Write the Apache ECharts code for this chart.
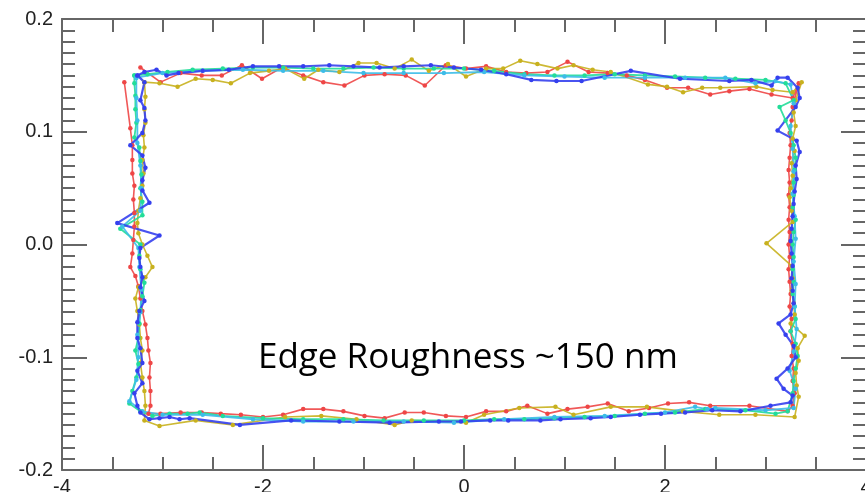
<!DOCTYPE html>
<html>
<head>
<meta charset="utf-8">
<title>Edge Roughness</title>
<script src="https://cdn.jsdelivr.net/npm/echarts@6/dist/echarts.min.js"></script>
<style>
  html, body { margin: 0; padding: 0; background: #ffffff; }
  #chart { width: 865px; height: 492px; }
</style>
</head>
<body>
<div id="chart"></div>
<script>
// Traced outline of a rectangular feature, several passes (x, y in same units as axes)
const redPath = [
  [-3.22,0.157],[-3.02,0.144],[-2.82,0.152],[-2.61,0.150],[-2.41,0.150],[-2.21,0.159],[-2.01,0.147],[-1.81,0.157],
  [-1.60,0.150],[-1.40,0.144],[-1.19,0.141],[-0.99,0.150],[-0.79,0.151],[-0.58,0.150],[-0.39,0.141],[-0.18,0.159],
  [0.02,0.156],[0.22,0.158],[0.42,0.153],[0.62,0.152],[0.83,0.153],[1.03,0.162],[1.24,0.153],[1.43,0.152],
  [1.62,0.150],[1.80,0.146],[2.02,0.139],[2.23,0.139],[2.45,0.133],[2.64,0.136],[2.84,0.138],[3.06,0.133],
  [3.27,0.130],[3.33,0.143],
  [3.27,0.122],[3.26,0.110],[3.24,0.099],[3.25,0.088],[3.24,0.077],[3.23,0.066],[3.24,0.055],[3.23,0.044],
  [3.24,0.033],[3.23,0.022],[3.24,0.011],[3.23,0.000],[3.24,-0.011],[3.23,-0.022],[3.24,-0.033],[3.25,-0.044],
  [3.24,-0.055],[3.26,-0.066],[3.25,-0.077],[3.27,-0.088],[3.26,-0.099],[3.28,-0.110],[3.27,-0.121],[3.29,-0.132],
  [3.27,-0.143],[3.22,-0.148],
  [2.84,-0.143],[2.45,-0.143],[2.24,-0.140],[2.03,-0.141],[1.84,-0.145],[1.64,-0.148],[1.43,-0.141],[1.23,-0.144],
  [1.03,-0.146],[0.83,-0.150],[0.63,-0.143],[0.42,-0.148],[0.22,-0.148],[0.02,-0.153],[-0.18,-0.152],[-0.40,-0.149],
  [-0.59,-0.149],[-0.79,-0.154],[-0.99,-0.152],[-1.20,-0.148],[-1.40,-0.146],[-1.60,-0.146],[-1.80,-0.151],[-2.00,-0.153],
  [-2.22,-0.151],[-2.42,-0.150],[-2.61,-0.149],[-2.82,-0.149],[-3.02,-0.150],[-3.14,-0.150],
  [-3.12,-0.143],[-3.12,-0.130],[-3.13,-0.118],[-3.12,-0.105],[-3.14,-0.094],[-3.15,-0.083],[-3.17,-0.071],[-3.20,-0.059],
  [-3.22,-0.048],[-3.24,-0.037],[-3.27,-0.028],[-3.32,-0.020],[-3.30,-0.008],[-3.29,0.004],[-3.28,0.016],[-3.28,0.028],
  [-3.29,0.040],[-3.28,0.052],[-3.30,0.063],[-3.30,0.075],[-3.30,0.088],[-3.32,0.103],[-3.38,0.144]
];

const yellowPath = [
  [-3.18,0.144],[-3.03,0.143],[-2.85,0.140],[-2.67,0.147],[-2.50,0.146],[-2.32,0.143],[-2.13,0.152],[-1.94,0.154],
  [-1.78,0.156],[-1.59,0.147],[-1.45,0.155],[-1.24,0.153],[-1.05,0.161],[-0.87,0.161],[-0.69,0.156],[-0.52,0.164],
  [-0.35,0.154],[-0.16,0.160],[0.02,0.149],[0.22,0.156],[0.39,0.156],[0.56,0.163],[0.73,0.160],[0.93,0.156],
  [1.09,0.159],[1.28,0.155],[1.46,0.153],[1.83,0.142],[2.02,0.140],[2.18,0.135],[2.37,0.139],[2.55,0.139],
  [2.91,0.140],[3.07,0.137],[3.27,0.135],[3.36,0.144],
  [3.30,0.128],[3.28,0.117],[3.30,0.105],[3.27,0.094],[3.29,0.083],[3.26,0.072],[3.27,0.061],[3.25,0.050],
  [3.24,0.042],[3.26,0.030],[3.27,0.020],[3.01,0.001],[3.26,-0.019],[3.27,-0.030],[3.26,-0.041],[3.28,-0.052],
  [3.29,-0.062],[3.25,-0.070],[3.39,-0.081],[3.32,-0.092],[3.33,-0.103],[3.30,-0.114],[3.31,-0.125],[3.33,-0.135],
  [3.29,-0.153],
  [2.90,-0.151],[2.54,-0.151],[2.18,-0.148],[1.82,-0.144],[1.46,-0.144],[1.09,-0.151],[0.91,-0.144],[0.55,-0.145],
  [0.20,-0.151],[0.02,-0.158],[-0.52,-0.156],[-0.69,-0.160],[-1.07,-0.155],[-1.42,-0.152],[-1.78,-0.153],[-2.30,-0.160],
  [-2.67,-0.156],[-3.03,-0.161],[-3.18,-0.156],
  [-3.17,-0.143],[-3.18,-0.130],[-3.20,-0.118],[-3.22,-0.105],[-3.20,-0.094],[-3.22,-0.083],[-3.23,-0.071],[-3.25,-0.059],
  [-3.27,-0.048],[-3.24,-0.038],[-3.17,-0.029],[-3.10,-0.020],[-3.15,-0.010],[-3.20,0.000],[-3.24,0.010],[-3.25,0.019],
  [-3.24,0.030],[-3.22,0.041],[-3.20,0.052],[-3.19,0.063],[-3.20,0.075],[-3.18,0.086],[-3.19,0.097],[-3.17,0.108],
  [-3.18,0.120],[-3.17,0.131],[-3.18,0.144]
];

const greenPath = [
  [-3.28,0.150],[-3.15,0.151],[-2.95,0.153],[-2.70,0.155],[-2.40,0.156],[-2.10,0.157],[-1.80,0.157],[-1.50,0.156],
  [-1.20,0.156],[-0.90,0.157],[-0.60,0.156],[-0.30,0.156],[0.00,0.156],[0.30,0.154],[0.60,0.151],[0.90,0.150],
  [1.20,0.150],[1.50,0.151],[1.80,0.150],[2.10,0.149],[2.40,0.148],[2.70,0.147],[3.00,0.146],[3.20,0.143],
  [3.28,0.128],
  [3.14,0.122],[3.20,0.110],[3.25,0.099],[3.28,0.088],[3.30,0.077],[3.29,0.066],[3.28,0.055],[3.28,0.044],
  [3.27,0.033],[3.30,0.022],[3.28,0.011],[3.27,0.000],[3.28,-0.011],[3.27,-0.022],[3.28,-0.033],[3.27,-0.044],
  [3.29,-0.055],[3.30,-0.066],[3.25,-0.077],[3.30,-0.088],[3.32,-0.099],[3.30,-0.110],[3.28,-0.121],[3.27,-0.132],
  [3.22,-0.148],
  [3.10,-0.150],[2.80,-0.147],[2.40,-0.146],[2.10,-0.149],[1.80,-0.150],[1.50,-0.152],[1.20,-0.153],[0.90,-0.154],
  [0.60,-0.155],[0.30,-0.155],[0.00,-0.156],[-0.40,-0.156],[-0.80,-0.156],[-1.20,-0.155],[-1.60,-0.155],[-2.00,-0.154],
  [-2.40,-0.152],[-2.63,-0.149],[-2.75,-0.150],[-2.93,-0.150],[-3.10,-0.152],[-3.22,-0.148],
  [-3.33,-0.141],[-3.30,-0.130],[-3.26,-0.118],[-3.24,-0.106],[-3.27,-0.094],[-3.24,-0.083],[-3.23,-0.070],[-3.22,-0.058],
  [-3.20,-0.046],[-3.18,-0.034],[-3.22,-0.022],[-3.23,-0.010],[-3.22,0.000],[-3.42,0.014],[-3.20,0.026],[-3.20,0.038],
  [-3.22,0.050],[-3.21,0.062],[-3.22,0.074],[-3.23,0.086],[-3.28,0.095],[-3.26,0.108],[-3.27,0.120],[-3.27,0.132],
  [-3.28,0.143],[-3.28,0.150]
];

const cyanPath = [
  [-3.26,0.148],[-3.00,0.152],[-2.60,0.154],[-2.20,0.155],[-1.80,0.154],[-1.40,0.154],[-1.00,0.152],[-0.60,0.152],
  [-0.20,0.152],[0.20,0.153],[0.60,0.150],[1.00,0.149],[1.40,0.148],[1.80,0.148],[2.20,0.148],[2.60,0.148],
  [2.90,0.143],[3.10,0.145],[3.25,0.142],
  [3.28,0.125],[3.25,0.105],[3.27,0.085],[3.28,0.065],[3.27,0.045],[3.29,0.025],[3.30,0.005],[3.28,-0.015],
  [3.30,-0.035],[3.29,-0.055],[3.31,-0.075],[3.28,-0.095],[3.24,-0.112],[3.30,-0.128],[3.28,-0.145],
  [3.00,-0.147],[2.50,-0.145],[2.42,-0.146],[2.30,-0.144],[2.00,-0.149],[1.40,-0.152],[0.90,-0.153],[0.40,-0.155],
  [-0.10,-0.158],[-0.60,-0.157],[-1.10,-0.157],[-1.60,-0.157],[-2.10,-0.155],[-2.60,-0.151],[-3.00,-0.151],[-3.20,-0.148],
  [-3.33,-0.139],[-3.26,-0.120],[-3.24,-0.100],[-3.25,-0.080],[-3.22,-0.060],[-3.21,-0.040],[-3.23,-0.020],[-3.24,-0.003],
  [-3.40,0.016],[-3.22,0.030],[-3.21,0.050],[-3.22,0.070],[-3.25,0.090],[-3.25,0.110],[-3.26,0.130],[-3.26,0.148]
];

const bluePath = [
  [-3.25,0.150],[-3.18,0.153],[-3.06,0.155],[-2.96,0.150],[-2.84,0.152],[-2.60,0.154],[-2.34,0.155],[-2.10,0.158],
  [-1.84,0.158],[-1.60,0.158],[-1.34,0.159],[-1.10,0.158],[-0.84,0.157],[-0.60,0.158],[-0.33,0.159],[-0.10,0.157],
  [0.17,0.155],[0.42,0.151],[0.67,0.146],[0.92,0.145],[1.17,0.145],[1.66,0.154],[2.15,0.147],[2.64,0.145],
  [2.86,0.146],[3.06,0.141],[3.12,0.148],[3.22,0.148],[3.32,0.139],[3.34,0.130],
  [3.30,0.122],[3.12,0.101],[3.31,0.092],[3.34,0.082],[3.30,0.070],[3.31,0.058],[3.29,0.047],[3.28,0.036],
  [3.27,0.025],[3.26,0.014],[3.25,0.003],[3.26,-0.008],[3.27,-0.019],[3.26,-0.030],[3.27,-0.041],[3.28,-0.052],
  [3.25,-0.062],[3.13,-0.070],[3.20,-0.080],[3.28,-0.090],[3.30,-0.100],[3.22,-0.110],[3.11,-0.119],[3.18,-0.128],
  [3.27,-0.134],[3.25,-0.140],
  [3.05,-0.143],[2.75,-0.148],[2.47,-0.147],[2.20,-0.149],[1.96,-0.150],[1.75,-0.151],[1.46,-0.153],[1.26,-0.154],
  [0.96,-0.155],[0.76,-0.156],[0.44,-0.156],[0.26,-0.156],[-0.03,-0.157],[-0.25,-0.157],[-0.74,-0.158],[-1.24,-0.157],
  [-1.72,-0.156],[-2.23,-0.160],[-2.73,-0.154],[-2.83,-0.155],[-2.93,-0.153],[-3.03,-0.154],[-3.13,-0.155],[-3.22,-0.149],
  [-3.25,-0.143],
  [-3.28,-0.132],[-3.20,-0.123],[-3.25,-0.112],[-3.20,-0.105],[-3.22,-0.092],[-3.25,-0.083],[-3.25,-0.069],[-3.23,-0.059],
  [-3.18,-0.050],[-3.22,-0.038],[-3.20,-0.029],[-3.22,-0.020],[-3.23,-0.012],[-3.22,-0.003],[-3.03,0.008],[-3.45,0.019],
  [-3.13,0.037],[-3.20,0.048],[-3.20,0.057],[-3.17,0.068],[-3.20,0.079],[-3.32,0.088],[-3.20,0.099],[-3.17,0.110],
  [-3.18,0.121],[-3.22,0.128],[-3.18,0.144],[-3.25,0.150]
];

// Axis ranges and tick steps
const xRange = [-4, 4];
const xStep = 2;
const yRange = [-0.2, 0.2];
const yStep = 0.1;
const annotation = 'Edge Roughness ~150 nm';

const traces = [
  { name: 'pass 1', data: redPath,    color: '#ee4646', width: 1.6 },
  { name: 'pass 2', data: yellowPath, color: '#c8b11e', width: 1.6 },
  { name: 'pass 3', data: greenPath,  color: '#22dd99', width: 1.8 },
  { name: 'pass 4', data: cyanPath,   color: '#3cbce8', width: 1.8 },
  { name: 'pass 5', data: bluePath,   color: '#3540ee', width: 2.2 }
];

const frameColor = '#666666';
const labelFont = { color: '#222222', fontSize: 20, fontFamily: 'Liberation Sans, Arial, sans-serif' };

function xAxisDef(pos, showLabels) {
  return {
    type: 'value', position: pos, min: xRange[0], max: xRange[1], interval: xStep,
    axisLine: { show: true, onZero: false, lineStyle: { color: frameColor, width: 2 } },
    axisTick: { show: true, inside: true, length: 25, lineStyle: { color: frameColor, width: 2 } },
    minorTick: { show: true, splitNumber: 4, length: 13, lineStyle: { color: frameColor, width: 2 } },
    splitLine: { show: false },
    axisLabel: Object.assign({ show: showLabels, margin: 7, formatter: v => String(Math.round(v)) }, labelFont)
  };
}

function yAxisDef(pos, showLabels) {
  return {
    type: 'value', position: pos, min: yRange[0], max: yRange[1], interval: yStep,
    axisLine: { show: true, onZero: false, lineStyle: { color: frameColor, width: 2 } },
    axisTick: { show: true, inside: true, length: 25, lineStyle: { color: frameColor, width: 2 } },
    minorTick: { show: true, splitNumber: 10, length: 13, lineStyle: { color: frameColor, width: 2 } },
    splitLine: { show: false },
    axisLabel: Object.assign({
      show: showLabels, margin: 9,
      formatter: v => (Math.abs(v) < 1e-9 ? '0.0' : v.toFixed(1))
    }, labelFont)
  };
}

const chart = echarts.init(document.getElementById('chart'), null, { renderer: 'canvas' });
chart.setOption({
  animation: false,
  backgroundColor: '#ffffff',
  grid: { left: 62, top: 19, width: 804, height: 451, containLabel: false, outerBoundsMode: 'none' },
  xAxis: [xAxisDef('bottom', true), xAxisDef('top', false)],
  yAxis: [yAxisDef('left', true), yAxisDef('right', false)],
  series: traces.map(t => ({
    name: t.name,
    type: 'line',
    xAxisIndex: 0,
    yAxisIndex: 0,
    data: t.data,
    smooth: false,
    symbol: 'circle',
    symbolSize: 4.5,
    showSymbol: true,
    clip: false,
    lineStyle: { color: t.color, width: t.width, opacity: 0.9 },
    itemStyle: { color: t.color }
  })),
  graphic: [{
    type: 'text',
    left: 258,
    top: 341,
    style: {
      text: annotation,
      fill: '#000000',
      font: '35px "Open Sans", "Noto Sans", sans-serif'
    }
  }]
});
</script>
</body>
</html>
